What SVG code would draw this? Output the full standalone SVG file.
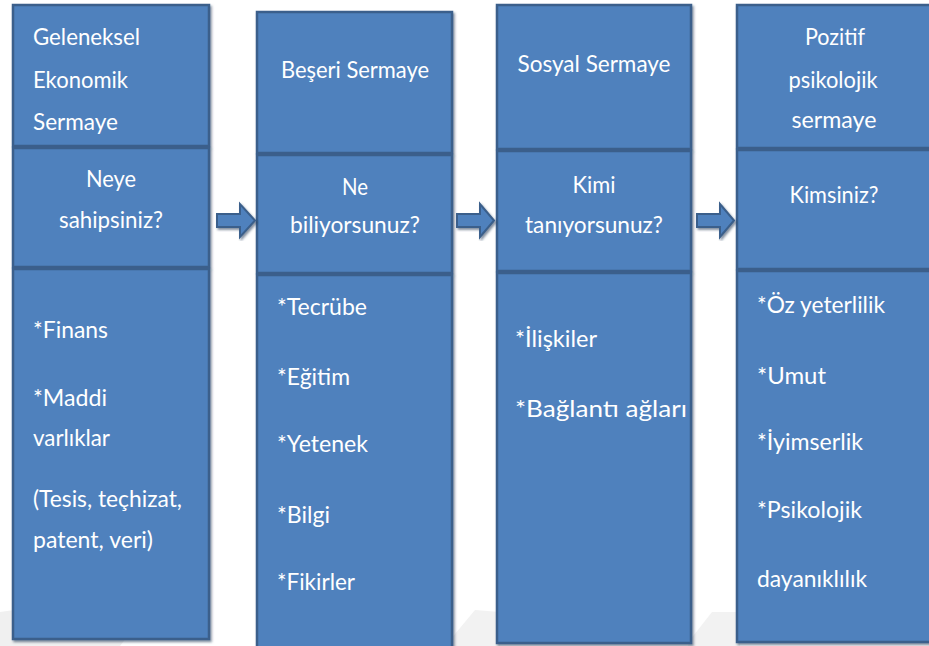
<svg xmlns="http://www.w3.org/2000/svg" width="929" height="646" viewBox="0 0 929 646">
  <defs>
    <filter id="shadow" x="-10%" y="-10%" width="120%" height="120%">
      <feDropShadow dx="1.5" dy="2" stdDeviation="1.2" flood-color="#1f3552" flood-opacity="0.55"/>
    </filter>
  </defs>
  <style>
    .box { fill: #4f81bd; stroke: #3a5f8b; stroke-width: 2.5; filter: url(#shadow); }
    .arrow { fill: #4f81bd; stroke: #3a5f8b; stroke-width: 2; filter: url(#shadow); }
    text { font-family: Lato, "Liberation Sans", "DejaVu Sans", sans-serif; font-size: 24px; fill: #ffffff; }
    .c { text-anchor: middle; }
  </style>

  <rect width="929" height="646" fill="#ffffff"/>
  <!-- faint background mark -->
  <path d="M0 612 Q80 600 150 606 L120 646 L0 646 Z" fill="#f0f0f0"/>
  <path d="M450 640 L475 610 L500 612 L500 646 L445 646 Z" fill="#f2f2f2"/>
  <path d="M690 640 L712 612 L740 612 L740 646 L688 646 Z" fill="#f2f2f2"/>

  <!-- Column 1 -->
  <g id="geleneksel">
    <rect class="box" x="13" y="5" width="196" height="141"/>
    <rect class="box" x="13" y="148" width="196" height="119"/>
    <rect class="box" x="13" y="269" width="196" height="370"/>
    <text x="33" y="45" textLength="107" lengthAdjust="spacingAndGlyphs">Geleneksel</text>
    <text x="33" y="88" textLength="95" lengthAdjust="spacingAndGlyphs">Ekonomik</text>
    <text x="33" y="130" textLength="85" lengthAdjust="spacingAndGlyphs">Sermaye</text>
    <text class="c" x="111" y="187" textLength="50" lengthAdjust="spacingAndGlyphs">Neye</text>
    <text class="c" x="111" y="228" textLength="104" lengthAdjust="spacingAndGlyphs">sahipsiniz?</text>
    <text x="33" y="338" textLength="75" lengthAdjust="spacingAndGlyphs">*Finans</text>
    <text x="33" y="406" textLength="74" lengthAdjust="spacingAndGlyphs">*Maddi</text>
    <text x="33" y="446" textLength="77" lengthAdjust="spacingAndGlyphs">varlıklar</text>
    <text x="33" y="507" textLength="149" lengthAdjust="spacingAndGlyphs">(Tesis, teçhizat,</text>
    <text x="33" y="548" textLength="120" lengthAdjust="spacingAndGlyphs">patent, veri)</text>
  </g>

  <!-- Column 2 -->
  <g id="beseri">
    <rect class="box" x="257" y="12" width="195" height="141"/>
    <rect class="box" x="257" y="155" width="195" height="118"/>
    <rect class="box" x="257" y="275" width="195" height="374"/>
    <text class="c" x="355" y="78" textLength="148" lengthAdjust="spacingAndGlyphs">Beşeri Sermaye</text>
    <text class="c" x="355" y="195" textLength="26" lengthAdjust="spacingAndGlyphs">Ne</text>
    <text class="c" x="355" y="233" textLength="130" lengthAdjust="spacingAndGlyphs">biliyorsunuz?</text>
    <text x="277" y="315" textLength="90" lengthAdjust="spacingAndGlyphs">*Tecrübe</text>
    <text x="277" y="385" textLength="73" lengthAdjust="spacingAndGlyphs">*Eğitim</text>
    <text x="277" y="452" textLength="91" lengthAdjust="spacingAndGlyphs">*Yetenek</text>
    <text x="277" y="523" textLength="53" lengthAdjust="spacingAndGlyphs">*Bilgi</text>
    <text x="277" y="590" textLength="78" lengthAdjust="spacingAndGlyphs">*Fikirler</text>
  </g>

  <!-- Column 3 -->
  <g id="sosyal">
    <rect class="box" x="497" y="5" width="194" height="144"/>
    <rect class="box" x="497" y="151" width="194" height="120"/>
    <rect class="box" x="497" y="273" width="194" height="370"/>
    <text class="c" x="594" y="72" textLength="153" lengthAdjust="spacingAndGlyphs">Sosyal Sermaye</text>
    <text class="c" x="594" y="193" textLength="43" lengthAdjust="spacingAndGlyphs">Kimi</text>
    <text class="c" x="594" y="233" textLength="138" lengthAdjust="spacingAndGlyphs">tanıyorsunuz?</text>
    <text x="515" y="347" textLength="82" lengthAdjust="spacingAndGlyphs">*İlişkiler</text>
    <text x="515" y="417" textLength="172" lengthAdjust="spacingAndGlyphs">*Bağlantı ağları</text>
  </g>

  <!-- Column 4 -->
  <g id="pozitif">
    <rect class="box" x="737" y="5" width="196" height="143"/>
    <rect class="box" x="737" y="150" width="196" height="119"/>
    <rect class="box" x="737" y="271" width="196" height="371"/>
    <text class="c" x="835" y="45" textLength="60" lengthAdjust="spacingAndGlyphs">Pozitif</text>
    <text class="c" x="833" y="88" textLength="89" lengthAdjust="spacingAndGlyphs">psikolojik</text>
    <text class="c" x="834" y="128" textLength="85" lengthAdjust="spacingAndGlyphs">sermaye</text>
    <text class="c" x="834" y="203" textLength="89" lengthAdjust="spacingAndGlyphs">Kimsiniz?</text>
    <text x="757" y="313" textLength="128" lengthAdjust="spacingAndGlyphs">*Öz yeterlilik</text>
    <text x="757" y="384" textLength="69" lengthAdjust="spacingAndGlyphs">*Umut</text>
    <text x="757" y="450" textLength="106" lengthAdjust="spacingAndGlyphs">*İyimserlik</text>
    <text x="757" y="518" textLength="105" lengthAdjust="spacingAndGlyphs">*Psikolojik</text>
    <text x="757" y="587" textLength="110" lengthAdjust="spacingAndGlyphs">dayanıklılık</text>
  </g>

  <!-- Connectors: block arrows between columns -->
  <g id="connectors">
    <path class="arrow" d="M217 214 H240 V204 L255 220.5 L240 237 V227 H217 Z"/>
    <path class="arrow" d="M457 214 H480 V204 L494 220.5 L480 237 V227 H457 Z"/>
    <path class="arrow" d="M697 214 H720 V204 L734 220.5 L720 237 V227 H697 Z"/>
  </g>
</svg>
